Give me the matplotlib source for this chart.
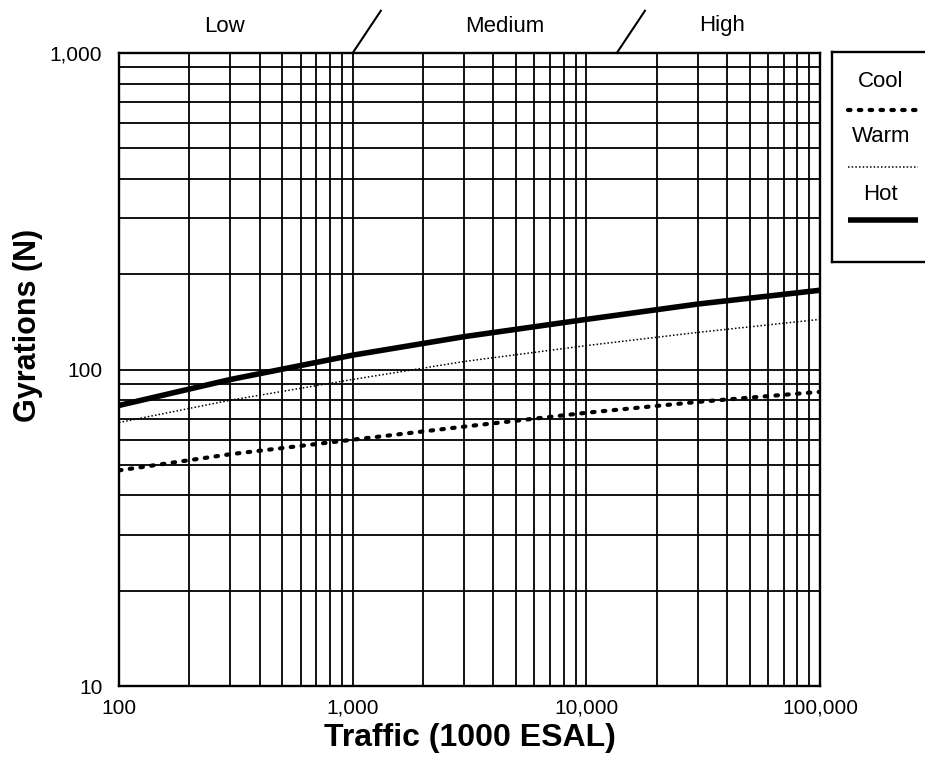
import matplotlib
matplotlib.use("Agg")
import matplotlib.pyplot as plt
from matplotlib.ticker import FixedLocator, FuncFormatter, LogLocator, NullFormatter

plt.rcParams["font.family"] = ["Liberation Sans", "DejaVu Sans"]

# values (traffic in 1000 ESAL, gyrations N)
traffic = [100, 300, 1000, 3000, 10000, 30000, 100000]
cool = [48, 54, 60, 66, 73, 79, 85]
warm = [68, 80, 93, 106, 119, 131, 144]
hot = [77, 93, 111, 127, 144, 161, 178]

series_names = ["Cool", "Warm", "Hot"]
zone_names = ["Low", "Medium", "High"]
zone_breaks = [1000, 13500]  # traffic where the slashes sit

x_ticks = [100, 1000, 10000, 100000]
y_ticks = [10, 100, 1000]

styles = {
    "Cool": dict(lw=3.0, linestyle=(0, (0.6, 2.0)), dash_capstyle="round"),
    "Warm": dict(lw=1.1, linestyle=(0, (1.0, 1.4))),
    "Hot": dict(lw=4.0, linestyle="-", solid_capstyle="butt"),
}

fig = plt.figure(figsize=(9.25, 7.58), dpi=100)
W, H = 925, 758
ax = fig.add_axes([119 / W, 1 - 686 / H, (820 - 119) / W, (686 - 53) / H])

ax.set_xscale("log")
ax.set_yscale("log")
ax.set_xlim(100, 100000)
ax.set_ylim(10, 1000)

for name, vals in zip(series_names, [cool, warm, hot]):
    ax.plot(traffic, vals, color="black", zorder=3, **styles[name])

# grid on every decade and minor line
ax.xaxis.set_major_locator(FixedLocator(x_ticks))
ax.yaxis.set_major_locator(FixedLocator(y_ticks))
ax.xaxis.set_minor_locator(LogLocator(base=10, subs=range(2, 10)))
ax.yaxis.set_minor_locator(LogLocator(base=10, subs=range(2, 10)))
ax.xaxis.set_minor_formatter(NullFormatter())
ax.yaxis.set_minor_formatter(NullFormatter())
fmt = FuncFormatter(lambda v, p: f"{int(round(v)):,}")
ax.xaxis.set_major_formatter(fmt)
ax.yaxis.set_major_formatter(fmt)
ax.grid(True, which="both", color="black", lw=1.3)
ax.tick_params(which="both", length=0)
ax.tick_params(axis="x", labelsize=15, pad=9)
ax.tick_params(axis="y", labelsize=15, pad=12)
for s in ax.spines.values():
    s.set_linewidth(1.7)

ax.set_xlabel("Traffic (1000 ESAL)", fontsize=23, fontweight="bold")
ax.set_ylabel("Gyrations (N)", fontsize=22, fontweight="bold")
ax.xaxis.set_label_coords(0.5, -0.058)
ax.yaxis.set_label_coords(-0.108, 0.57)

# traffic level slashes and names above the plot
for b in zone_breaks:
    ax.plot([b, b * 1.32], [1000, 1360], color="black", lw=1.5, clip_on=False)
for name, xp in zip(zone_names, [225, 505, 722]):
    fig.text(xp / W, 1 - 26 / H, name, fontsize=16, ha="center", va="center")

# legend box, cut off at the right edge like the original
lax = fig.add_axes([831.7 / W, 1 - 261.7 / H, 185 / W, 210 / H])
lax.set_xlim(0, 1)
lax.set_ylim(0, 1)
lax.set_xticks([])
lax.set_yticks([])
for s in lax.spines.values():
    s.set_linewidth(1.7)
text_y = [0.857, 0.597, 0.318]
line_y = [0.722, 0.452, 0.199]
for name, ty, ly in zip(series_names, text_y, line_y):
    lax.text(0.265, ty, name, fontsize=16, ha="center", va="center")
    lax.plot([0.088, 0.466], [ly, ly], color="black", **styles[name])

fig.savefig("out.png", dpi=100)
